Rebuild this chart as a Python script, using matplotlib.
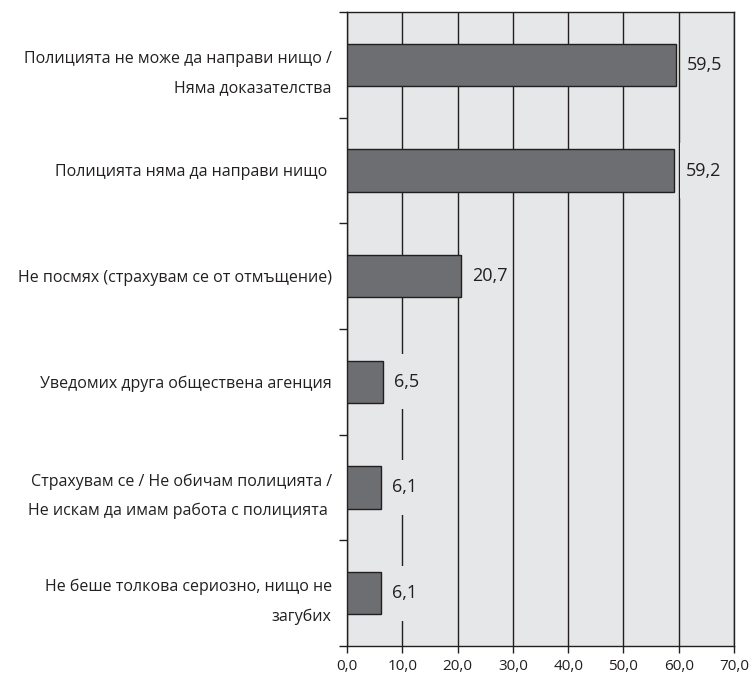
import matplotlib
matplotlib.use("Agg")
import matplotlib.pyplot as plt
from matplotlib.patches import Rectangle
import numpy as np

categories = [
    "Полицията не може да направи нищо /\nНяма доказателства",
    "Полицията няма да направи нищо ",
    "Не посмях (страхувам се от отмъщение)",
    "Уведомих друга обществена агенция",
    "Страхувам се / Не обичам полицията /\nНе искам да имам работа с полицията ",
    "Не беше толкова сериозно, нищо не\nзагубих",
]
values = [59.5, 59.2, 20.7, 6.5, 6.1, 6.1]
xticks = [0, 10, 20, 30, 40, 50, 60, 70]
xtick_labels = ["0,0", "10,0", "20,0", "30,0", "40,0", "50,0", "60,0", "70,0"]

plt.rcParams['font.family'] = ['Open Sans', 'DejaVu Sans']

BG = '#e6e7e8'
BAR = '#6d6e71'
DARK = '#231f20'

fig = plt.figure(figsize=(7.5, 6.8), dpi=100)
ax = fig.add_axes([347/750, 34/680, 387/750, 634/680])
ax.set_facecolor(BG)

y = np.arange(len(values))
ax.barh(y, values, height=0.4, color=BAR, edgecolor=DARK, linewidth=1, zorder=3)

ax.set_xlim(0, 70)
ax.set_ylim(len(values) - 0.5, -0.5)

ax.set_axisbelow(True)
ax.grid(axis='x', color=DARK, linewidth=1, zorder=0)

ax.set_xticks(xticks, xtick_labels)
ax.tick_params(axis='x', direction='out', length=5, width=1, color=DARK,
               labelsize=11, pad=4, labelcolor=DARK)

ax.set_yticks(np.arange(-0.5, len(values), 1), [''] * (len(values) + 1))
ax.tick_params(axis='y', which='major', direction='out', length=6, width=1, color=DARK)
ax.set_yticks(y, categories, minor=True)
ax.tick_params(axis='y', which='minor', length=0, pad=11, labelsize=11.5,
               labelcolor=DARK)
for lbl in ax.get_yticklabels(minor=True):
    lbl.set_linespacing(2.1)
    lbl.set_multialignment('right')

for s in ax.spines.values():
    s.set_color(DARK)
    s.set_linewidth(1)

for i, v in enumerate(values):
    ax.add_patch(Rectangle((v + 1.0, i - 0.26), 7.0, 0.52, facecolor=BG,
                           edgecolor='none', zorder=1.5))
    ax.annotate(f"{v:.1f}".replace('.', ','), (v, i), xytext=(8, 0),
                textcoords='offset points', va='center', ha='left',
                fontsize=13, color=DARK, zorder=4)

fig.savefig('out.png', dpi=100)
